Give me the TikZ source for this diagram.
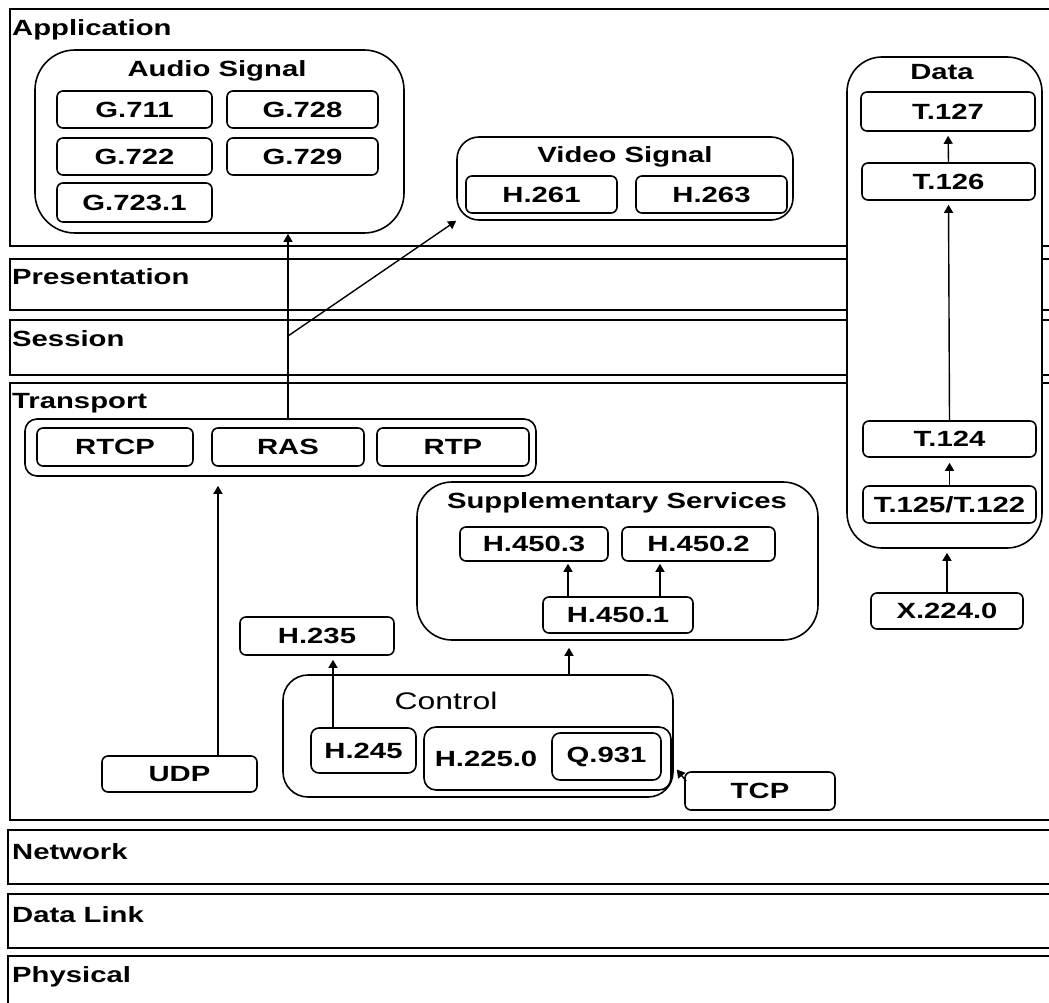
\documentclass[tikz,border=0pt]{standalone}
\usepackage{fontspec}
\setmainfont[FakeStretch=1.33]{Liberation Sans}
\usetikzlibrary{arrows.meta,calc,fit}

\begin{document}
\begin{tikzpicture}[x=1pt,y=-1pt,
  every node/.style={font=\fontsize{22}{24}\selectfont\bfseries, inner sep=0pt},
  layerbox/.style={draw, line width=1.8pt},
  laylabel/.style={anchor=west, inner sep=0pt},
  cell/.style={draw, line width=1.6pt, rounded corners=6pt, inner sep=0pt},
  grp/.style={draw, line width=1.6pt, inner sep=0pt},
  arr/.style={line width=1.4pt, -{Triangle[length=8pt,width=9pt]}},
]
\useasboundingbox (0,0) rectangle (1049,1003);
\clip (0,0) rectangle (1049,1003);
\fill[white] (0,0) rectangle (1049,1003);

% OSI layers
\draw[layerbox] (10,9)    rectangle (1070,246);
\draw[layerbox] (10,259)  rectangle (1070,310);
\draw[layerbox] (10,320)  rectangle (1070,375);
\draw[layerbox] (10,383)  rectangle (1070,820);
\draw[layerbox] (8,830)   rectangle (1070,884);
\draw[layerbox] (8,894)   rectangle (1070,948);
\draw[layerbox] (8,956)   rectangle (1070,1020);

\node[laylabel] (lapp)  at (12,30)  {Application};
\node[laylabel] (lpres) at (12,277) {Presentation};
\node[laylabel] (lsess) at (12,339) {Session};
\node[laylabel] (ltran) at (12,403) {Transport};
\node[laylabel] (lnet)  at (12,852) {Network};
\node[laylabel] (ldl)   at (12,915) {Data Link};
\node[laylabel] (lphy)  at (12,977) {Physical};

% Audio codecs
\node[grp, rounded corners=40pt, fit={(35,50) (404,233)}] (audio) {};
\node (audiolbl) at (217,71) {Audio Signal};
\node[cell, fit={(57,91) (212,128)},   label=center:G.711]   (g711)  {};
\node[cell, fit={(227,91) (378,128)},  label=center:G.728]   (g728)  {};
\node[cell, fit={(57,138) (212,175)},  label=center:G.722]   (g722)  {};
\node[cell, fit={(227,138) (378,175)}, label=center:G.729]   (g729)  {};
\node[cell, fit={(57,183) (212,222)},  label=center:G.723.1] (g7231) {};

% Video codecs
\node[grp, rounded corners=22pt, fit={(457,137) (793,220)}] (video) {};
\node (videolbl) at (625,157) {Video Signal};
\node[cell, fit={(466,176) (617,213)}, label=center:H.261] (h261) {};
\node[cell, fit={(636,176) (787,213)}, label=center:H.263] (h263) {};

% Data conferencing column
\node[grp, fill=white, rounded corners=35pt, fit={(847,57) (1042,548)}] (data) {};
\node (datalbl) at (942,72) {Data};
\node[cell, fit={(861,92) (1035,131)},  label=center:T.127] (t127) {};
\node[cell, fit={(862,163) (1035,200)}, label=center:T.126] (t126) {};
\node[cell, fit={(863,421) (1036,457)}, label=center:T.124] (t124) {};
\node[cell, fit={(863,486) (1036,523)}, label=center:T.125/T.122] (t125) {};
\node[cell, fit={(871,593) (1023,629)}, label=center:X.224.0] (x224) {};

% Real-time transport
\node[grp, rounded corners=12pt, fit={(25,419) (536,476)}] (rgroup) {};
\node[cell, fit={(37,428) (193,466)},  label=center:RTCP] (rtcp) {};
\node[cell, fit={(212,428) (364,466)}, label=center:RAS]  (ras)  {};
\node[cell, fit={(377,428) (529,466)}, label=center:RTP]  (rtp)  {};

% Supplementary services
\node[grp, rounded corners=35pt, fit={(417,482) (818,640)}] (supp) {};
\node (supplbl) at (617,503) {Supplementary Services};
\node[cell, fit={(460,527) (608,561)}, label=center:H.450.3] (h4503) {};
\node[cell, fit={(622,527) (775,561)}, label=center:H.450.2] (h4502) {};
\node[cell, fit={(543,597) (693,633)}, label=center:H.450.1] (h4501) {};

% Call control
\node[cell, fit={(240,617) (394,655)}, label=center:H.235] (h235) {};
\node[grp, rounded corners=25pt, fit={(283,675) (673,797)}] (ctrl) {};
\node[font=\fontsize{24}{26}\selectfont] (ctrllbl) at (446,701) {Control};
\node[cell, rounded corners=8pt, fit={(311,728) (416,773)}, label=center:H.245] (h245) {};
\node[grp, rounded corners=12pt, fit={(424,727) (671,790)}] (h225) {};
\node (h225lbl) at (486,759) {H.225.0};
\node[cell, rounded corners=8pt, fit={(552,733) (661,780)}, label=center:Q.931] (q931) {};
\node[cell, fit={(685,772) (835,810)}, label=center:TCP] (tcp) {};
\node[cell, fit={(102,756) (257,792)}, label=center:UDP] (udp) {};

% Connectors
\coordinate (udpx) at (218,0);
\coordinate (h245x) at (333,0);
\coordinate (ctrlx) at (569,0);
\coordinate (s3x) at (568,0);
\coordinate (s2x) at (660,0);
\coordinate (split) at (288,336);

\draw[arr] (ras.north |- rgroup.north) -- (ras |- audio.south);
\draw[arr] (split) -- (video.south west);
\draw[arr, shorten >=9pt] (udp.north -| udpx) -- (udpx |- rgroup.south);
\draw[arr, shorten >=4pt] (h245.north -| h245x) -- (h245x |- h235.south);
\draw[arr, shorten >=7pt] (ctrl.north -| ctrlx) -- (ctrlx |- supp.south);
\draw[arr, shorten >=2pt] (h4501.north -| s3x) -- (s3x |- h4503.south);
\draw[arr, shorten >=2pt] (h4501.north -| s2x) -- (s2x |- h4502.south);
\draw[arr] ($(tcp.north west)+(2,10)$) -- ($(h225.east)+(5,11)$);

\draw[arr, shorten >=5pt] (t125.north) -- (t124.south);
\draw[arr, shorten >=4pt] (t124.north) -- (t126.south);
\draw[arr, shorten >=4pt] (t126.north) -- (t127.south);
\draw[arr, shorten >=4pt] (x224.north) -- (x224 |- data.south);
\end{tikzpicture}
\end{document}
